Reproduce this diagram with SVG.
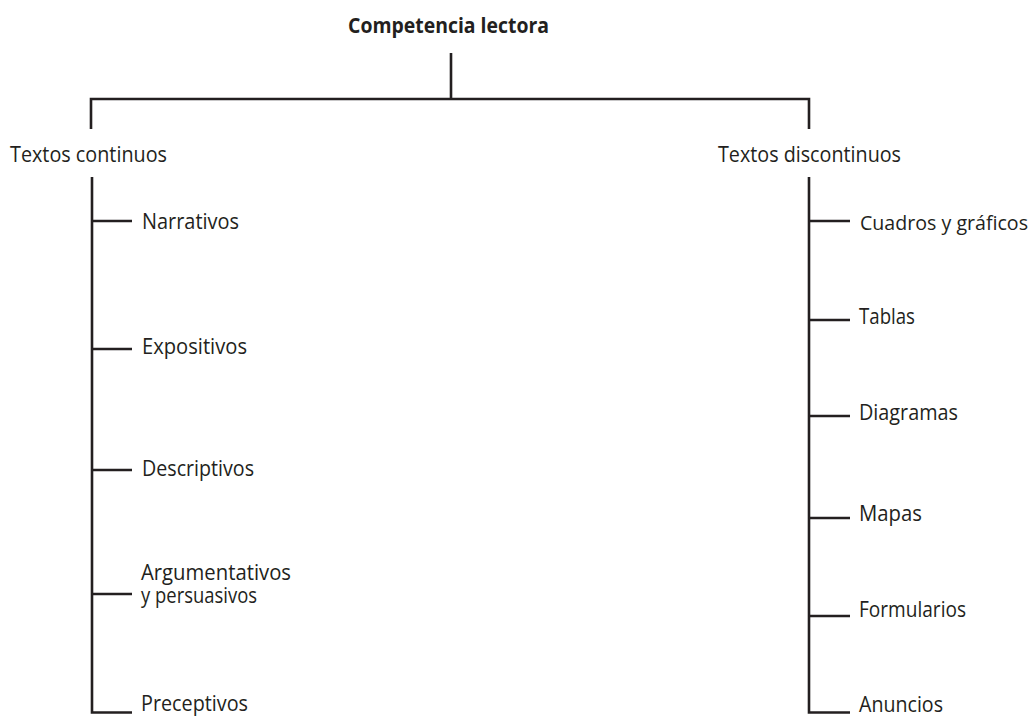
<svg xmlns="http://www.w3.org/2000/svg" width="1034" height="717" viewBox="0 0 1034 717">
<style>
.t{font-family:"Open Sans","Noto Sans",sans-serif;font-size:21px;fill:#231f20}
.b{font-weight:bold}
.c{fill:none;stroke:#231f20;stroke-width:2.6}
</style>
<rect width="1034" height="717" fill="#fff"/>
<g id="connectors">
<path class="c" d="M451 53V99M91 129V99H809V129"/>
<path class="c" d="M92 177V712.5H132M92 221H132M92 349H132M92 470H132M92 594H132"/>
<path class="c" d="M809 177V712.5H850M809 221H850M809 320H850M809 416H850M809 518H850M809 616H850"/>
</g>
<g id="root"><text class="t b" x="348" y="33" textLength="201" lengthAdjust="spacingAndGlyphs">Competencia lectora</text></g>
<g id="continuos"><text class="t" x="10" y="162" textLength="157" lengthAdjust="spacingAndGlyphs">Textos continuos</text></g>
<g id="discontinuos"><text class="t" x="718" y="162" textLength="183" lengthAdjust="spacingAndGlyphs">Textos discontinuos</text></g>
<g id="narrativos"><text class="t" x="142" y="228.5" textLength="97" lengthAdjust="spacingAndGlyphs">Narrativos</text></g>
<g id="expositivos"><text class="t" x="142" y="353.5" textLength="105" lengthAdjust="spacingAndGlyphs">Expositivos</text></g>
<g id="descriptivos"><text class="t" x="142" y="476" textLength="112" lengthAdjust="spacingAndGlyphs">Descriptivos</text></g>
<g id="argumentativos"><text class="t"><tspan x="141" y="580" textLength="150" lengthAdjust="spacingAndGlyphs">Argumentativos</tspan><tspan x="141" y="603" textLength="116" lengthAdjust="spacingAndGlyphs">y persuasivos</tspan></text></g>
<g id="preceptivos"><text class="t" x="141" y="711" textLength="107" lengthAdjust="spacingAndGlyphs">Preceptivos</text></g>
<g id="cuadros"><text class="t" x="860" y="229.5" font-size="20" style="font-size:20px" textLength="168" lengthAdjust="spacingAndGlyphs">Cuadros y gráficos</text></g>
<g id="tablas"><text class="t" x="859" y="324" textLength="56" lengthAdjust="spacingAndGlyphs">Tablas</text></g>
<g id="diagramas"><text class="t" x="859" y="420" textLength="99" lengthAdjust="spacingAndGlyphs">Diagramas</text></g>
<g id="mapas"><text class="t" x="859" y="521" textLength="63" lengthAdjust="spacingAndGlyphs">Mapas</text></g>
<g id="formularios"><text class="t" x="859" y="617" textLength="107" lengthAdjust="spacingAndGlyphs">Formularios</text></g>
<g id="anuncios"><text class="t" x="859" y="711.5" textLength="84" lengthAdjust="spacingAndGlyphs">Anuncios</text></g>
</svg>
